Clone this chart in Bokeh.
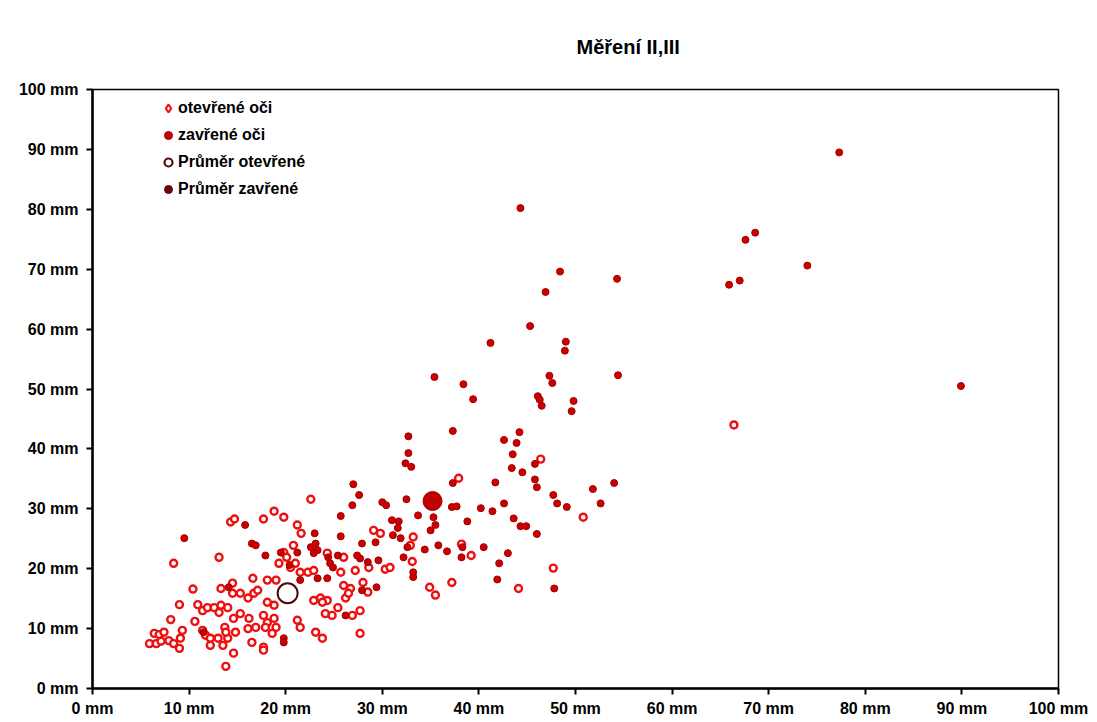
from bokeh.plotting import figure
from bokeh.models import FixedTicker, Range1d, Legend, LegendItem
from bokeh.embed import file_html
from bokeh.resources import INLINE

title_text = "Měření II,III"
tick_values = [0, 10, 20, 30, 40, 50, 60, 70, 80, 90, 100]
tick_labels = ["0 mm", "10 mm", "20 mm", "30 mm", "40 mm", "50 mm",
               "60 mm", "70 mm", "80 mm", "90 mm", "100 mm"]
series_names = ["otevřené oči", "zavřené oči", "Průměr otevřené", "Průměr zavřené"]

open_x = [5.9, 6.4, 6.6, 6.9, 7.1, 7.4, 7.9, 8.4, 9.0, 9.1, 9.3, 8.1, 9.0, 10.4, 8.4, 10.6,
          10.9, 11.4, 11.9, 12.6, 13.1, 13.3, 14.0, 11.4, 11.7, 12.2, 12.2, 13.0, 13.5, 13.7,
          14.0, 13.8, 14.8, 13.3, 14.5, 14.5, 15.3, 16.1, 16.7, 17.1, 16.6, 18.1, 19.0, 14.6,
          15.3, 16.2, 16.1, 16.9, 17.7, 18.1, 17.9, 18.8, 19.0, 18.6, 14.6, 13.8, 16.5, 17.7,
          18.1, 18.8, 14.3, 14.7, 17.7, 18.8, 19.8, 21.2, 21.6, 22.6, 13.1, 19.8, 20.1, 20.8,
          19.3, 20.5, 21.0, 21.5, 22.3, 22.9, 23.6, 24.3, 25.4, 26.2, 26.9, 26.0, 26.7, 27.7,
          27.7, 23.1, 23.8, 17.7, 22.9, 23.8, 21.2, 21.5, 29.1, 29.8, 33.2, 32.9, 33.1, 30.3,
          30.8, 28.6, 25.7, 37.2, 34.9, 35.5, 38.2, 39.2, 37.9, 46.4, 44.1, 47.7, 50.8, 66.4,
          24.1, 24.8, 26.5, 27.2, 26.0, 24.3, 28.0, 28.5]
open_y = [7.5, 9.2, 7.5, 9.0, 7.9, 9.4, 8.0, 7.5, 6.7, 8.4, 9.7, 11.5, 14.0, 16.6, 20.9, 11.2,
          14.0, 13.0, 13.5, 13.5, 12.7, 13.9, 13.5, 9.7, 8.9, 8.4, 7.2, 8.4, 7.2, 10.2,
          8.4, 9.4, 9.4, 16.7, 17.6, 15.9, 15.9, 15.1, 15.9, 16.4, 18.4, 18.1, 18.1, 11.7,
          12.5, 11.7, 10.0, 10.2, 12.2, 11.0, 10.2, 11.7, 10.2, 9.2, 5.9, 3.7, 7.7, 6.9,
          14.4, 13.9, 27.8, 28.3, 28.3, 29.6, 28.6, 27.3, 25.9, 31.6, 21.9, 22.7, 21.9, 23.9,
          20.9, 20.2, 20.9, 19.4, 19.4, 19.7, 15.1, 14.7, 13.5, 15.1, 12.2, 17.2, 16.7, 13.0,
          9.2, 9.4, 8.4, 6.4, 14.7, 14.4, 11.4, 10.2, 26.4, 25.9, 25.3, 23.9, 21.2, 19.9,
          20.2, 20.2, 19.4, 17.7, 16.9, 15.6, 24.1, 22.2, 35.1, 38.3, 16.7, 20.1, 28.6, 44.0,
          12.5, 12.2, 15.9, 19.7, 21.9, 22.6, 17.7, 16.1]

closed_x = [9.5, 15.8, 16.5, 16.9, 17.9, 23.0, 26.9, 25.7, 25.7, 27.0, 27.6, 30.0, 30.4, 32.5,
            33.7, 35.3, 35.5, 35.0, 37.2, 37.7, 38.8, 31.0, 31.7, 31.6, 31.1, 31.9, 32.6, 27.9,
            29.3, 34.4, 35.8, 36.7, 38.3, 38.2, 32.2, 33.2, 33.2, 29.6, 28.5, 27.7, 29.4, 27.9,
            26.2, 19.8, 22.6, 23.1, 23.3, 22.9, 25.4, 27.4, 24.4, 24.6, 24.9, 23.3, 24.3, 19.5,
            21.2, 32.7, 37.3, 32.7, 32.4, 33.0, 37.3, 35.4, 38.4, 39.4, 41.2, 45.3, 46.9, 48.4,
            54.3, 49.0, 48.9, 47.3, 47.6, 46.1, 46.3, 46.5, 49.8, 49.6, 54.4, 44.2, 42.6, 43.9,
            43.5, 43.4, 44.5, 45.8, 45.8, 46.0, 41.7, 47.7, 48.1, 49.1, 51.8, 54.0, 52.6, 42.6,
            40.2, 41.4, 43.6, 44.3, 44.9, 46.0, 40.5, 43.0, 42.1, 41.9, 47.8, 77.3, 68.6, 67.6,
            74.0, 67.0, 65.9, 89.9, 11.5, 14.1, 19.8, 20.4, 21.5, 44.3]
closed_y = [25.1, 27.3, 24.2, 23.9, 22.2, 25.9, 30.6, 28.8, 25.4, 34.1, 32.3, 31.1, 30.6, 31.6,
            28.9, 28.6, 27.3, 26.4, 30.3, 30.4, 27.9, 28.1, 27.9, 26.8, 25.6, 25.1, 23.6, 24.2,
            24.4, 23.2, 23.9, 22.9, 23.6, 21.9, 21.9, 19.4, 18.6, 21.4, 21.1, 21.7, 16.9, 16.4,
            12.2, 8.4, 23.6, 24.2, 23.1, 22.6, 22.2, 22.2, 21.9, 20.9, 20.2, 18.4, 18.4, 22.7,
            22.7, 42.1, 43.0, 39.3, 37.6, 37.0, 34.3, 52.0, 50.8, 48.3, 57.7, 60.5, 66.2, 69.6,
            68.4, 57.9, 56.4, 52.2, 51.0, 48.8, 48.2, 47.2, 48.0, 46.3, 52.3, 42.8, 41.5, 41.0,
            39.1, 36.8, 36.1, 37.5, 34.9, 33.6, 34.4, 32.3, 30.9, 30.3, 33.3, 34.3, 30.9, 30.9,
            30.1, 29.6, 28.4, 27.1, 27.1, 25.8, 23.6, 22.6, 20.9, 18.2, 16.7, 89.5, 76.1, 74.9,
            70.6, 68.1, 67.4, 50.5, 9.4, 16.9, 7.7, 20.6, 18.1, 80.2]

mean_open_x = [20.2]
mean_open_y = [15.9]
mean_closed_x = [35.2]
mean_closed_y = [31.3]

FONT = "Liberation Sans"
NAN = [float("nan")]

p = figure(width=1089, height=720, output_backend="svg", toolbar_location=None, tools="",
           x_range=Range1d(0, 100), y_range=Range1d(0, 100),
           min_border_left=92, min_border_right=31, min_border_top=89, min_border_bottom=32,
           background_fill_color="white", border_fill_color="white")

p.title.text = title_text
p.title.align = "left"
p.title.offset = 484
p.title.standoff = 64
p.title.text_font = FONT
p.title.text_font_style = "bold"
p.title.text_font_size = "20px"
p.title.text_color = "black"

p.xgrid.visible = False
p.ygrid.visible = False
p.outline_line_color = "black"
p.outline_line_width = 1.5

for ax in (p.xaxis[0], p.yaxis[0]):
    ax.ticker = FixedTicker(ticks=tick_values)
    ax.major_label_overrides = {v: lab for v, lab in zip(tick_values, tick_labels)}
    ax.axis_line_color = "black"
    ax.axis_line_width = 2.5
    ax.major_tick_line_color = "black"
    ax.major_tick_line_width = 2
    ax.major_tick_out = 6
    ax.major_tick_in = 0
    ax.minor_tick_line_color = None
    ax.major_label_text_font = FONT
    ax.major_label_text_font_style = "bold"
    ax.major_label_text_font_size = "16px"
    ax.major_label_text_color = "black"
p.xaxis.major_label_standoff = 5
p.yaxis.major_label_standoff = 8

# data
p.scatter(open_x, open_y, marker="circle", size=7, fill_color="white",
          line_color="#ee1010", line_width=2.4)
p.scatter(closed_x, closed_y, marker="circle", size=7, fill_color="#cc0000",
          line_color="#a00000", line_width=1)
p.scatter(mean_open_x, mean_open_y, marker="circle", size=20, fill_color="white",
          line_color="#4a0808", line_width=2)
p.scatter(mean_closed_x, mean_closed_y, marker="circle", size=19, fill_color="#c00000",
          line_color="#a00000", line_width=1)

# legend glyphs (not drawn in the plot area)
l1 = p.scatter(NAN, NAN, marker="diamond", fill_color="white", line_color="#ee1010", line_width=2.2)
l2 = p.scatter(NAN, NAN, marker="circle", fill_color="#cc0000", line_color="#a00000", line_width=1)
l3 = p.scatter(NAN, NAN, marker="circle", fill_color="white", line_color="#5a0a0a", line_width=2.2)
l4 = p.scatter(NAN, NAN, marker="circle", fill_color="#6a0808", line_color="#5a0505", line_width=1)

legend = Legend(items=[LegendItem(label=series_names[0], renderers=[l1]),
                       LegendItem(label=series_names[1], renderers=[l2]),
                       LegendItem(label=series_names[2], renderers=[l3]),
                       LegendItem(label=series_names[3], renderers=[l4])],
                location=(66, 489), border_line_color=None, background_fill_alpha=0,
                padding=0, margin=0, spacing=7, glyph_width=20, glyph_height=20,
                label_height=20, label_standoff=0,
                label_text_font=FONT, label_text_font_style="bold",
                label_text_font_size="16px", label_text_color="black")
p.add_layout(legend)

open("out.html", "w").write(file_html(p, INLINE))
